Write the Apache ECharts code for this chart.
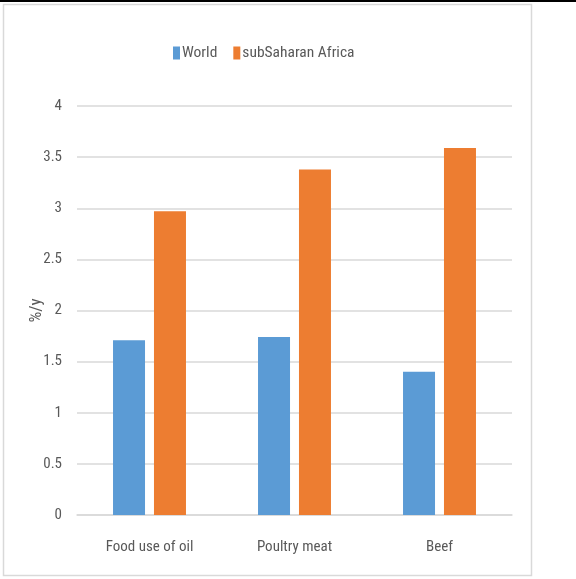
<!DOCTYPE html>
<html><head><meta charset="utf-8">
<script src="https://cdn.jsdelivr.net/npm/echarts@6/dist/echarts.min.js"></script>
<style>html,body{margin:0;padding:0;background:#fff}#c{width:576px;height:579px}</style>
</head><body><div id="c"></div>
<script>
const categories = ['Food use of oil', 'Poultry meat', 'Beef'];
const worldValues = [1.71, 1.74, 1.40];
const ssaValues = [2.97, 3.38, 3.59];
const seriesNames = ['World', 'subSaharan Africa'];
const yTicks = [0, 0.5, 1, 1.5, 2, 2.5, 3, 3.5, 4];

const font = "'Liberation Sans Narrow', 'Roboto Condensed', 'DejaVu Sans Condensed', sans-serif";
const chart = echarts.init(document.getElementById('c'), null, {renderer: 'canvas'});
chart.setOption({
  animation: false,
  backgroundColor: '#fff',
  graphic: [
    {type: 'rect', shape: {x: 3.5, y: 4.5, width: 528, height: 571}, style: {fill: 'none', stroke: '#d9d9d9', lineWidth: 1.5}, z: -1},
    {type: 'rect', shape: {x: 0, y: 0, width: 576, height: 2}, style: {fill: '#000'}}
  ],
  legend: {
    top: 40, left: 168, itemWidth: 7, itemHeight: 13, itemGap: 16,
    textStyle: {fontFamily: font, fontSize: 15.5, color: '#595959', padding: [0, 0, 0, -3]},
    data: seriesNames.map(n => ({name: n, icon: 'rect'}))
  },
  grid: {left: 77, right: 64, top: 106, bottom: 64},
  xAxis: {
    type: 'category', data: categories,
    axisLine: {lineStyle: {color: '#d9d9d9', width: 1.5}},
    axisTick: {show: false},
    axisLabel: {fontFamily: font, fontSize: 15, color: '#595959', margin: 25}
  },
  yAxis: {
    type: 'value', min: 0, max: 4, interval: 0.5,
    name: '%/y', nameLocation: 'middle', nameGap: 32, nameRotate: 90,
    nameMoveOverlap: false,
    nameTextStyle: {fontFamily: font, fontSize: 17, color: '#595959'},
    axisLine: {show: false}, axisTick: {show: false},
    axisLabel: {fontFamily: font, fontSize: 15, color: '#595959', margin: 15,
      formatter: v => yTicks.includes(v) ? String(v) : ''},
    splitLine: {lineStyle: {color: '#d9d9d9', width: 1.5}}
  },
  series: [
    {name: seriesNames[0], type: 'bar', data: worldValues, barWidth: 32, barGap: '28%', itemStyle: {color: '#5B9BD5'}},
    {name: seriesNames[1], type: 'bar', data: ssaValues, barWidth: 32, barGap: '28%', itemStyle: {color: '#ED7D31'}}
  ]
});
</script></body></html>
